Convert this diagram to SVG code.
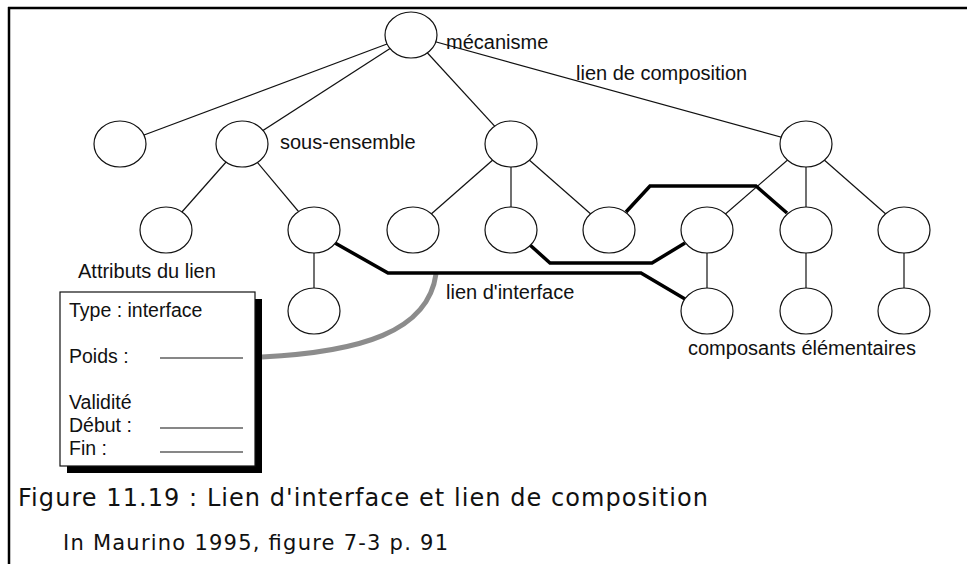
<svg xmlns="http://www.w3.org/2000/svg" width="967" height="564" viewBox="0 0 967 564">
<style>
.n{fill:#fff;stroke:#111;stroke-width:1.2}
.e{stroke:#111;stroke-width:1.2;fill:none}
.t{stroke:#000;stroke-width:3.5;fill:none;stroke-linejoin:miter}
.g{stroke:#8c8c8c;stroke-width:5;fill:none}
.lbl{font-family:"Liberation Sans",Arial,sans-serif;font-size:20px;fill:#111}
.box{font-family:"Liberation Sans",Arial,sans-serif;font-size:19.5px;fill:#111}
.cap{font-family:"DejaVu Sans",Verdana,sans-serif;fill:#111}
.fl{stroke:#111;stroke-width:1.2}
</style>
<rect width="967" height="564" fill="#fff"/>
<g id="frame">
<line x1="8" y1="8" x2="967" y2="8" stroke="#000" stroke-width="2.5"/>
<line x1="9" y1="7" x2="9" y2="564" stroke="#000" stroke-width="2.5"/>
</g>
<g id="connectors">
<line class="e" x1="411" y1="35" x2="120" y2="144"/>
<line class="e" x1="411" y1="35" x2="242" y2="144"/>
<line class="e" x1="411" y1="35" x2="511" y2="144"/>
<line class="e" x1="411" y1="35" x2="806" y2="144"/>
<line class="e" x1="242" y1="144" x2="166" y2="230"/>
<line class="e" x1="242" y1="144" x2="314" y2="230"/>
<line class="e" x1="314" y1="230" x2="314" y2="311"/>
<line class="e" x1="511" y1="144" x2="413" y2="230"/>
<line class="e" x1="511" y1="144" x2="511" y2="230"/>
<line class="e" x1="511" y1="144" x2="609" y2="230"/>
<line class="e" x1="806" y1="144" x2="707" y2="230"/>
<line class="e" x1="806" y1="144" x2="806" y2="230"/>
<line class="e" x1="806" y1="144" x2="904" y2="230"/>
<line class="e" x1="707" y1="230" x2="707" y2="311"/>
<line class="e" x1="806" y1="230" x2="806" y2="311"/>
<line class="e" x1="904" y1="230" x2="904" y2="311"/>
<path class="g" d="M262,357 C360,352 428,332 436,274"/>
<polyline class="t" points="335,243 388,273 641,273 685,299"/>
<polyline class="t" points="530,245 550,263 652,263 685,243"/>
<polyline class="t" points="626,212 650,186 756,186 787,213"/>
</g>
<g id="n-mecanisme"><ellipse class="n" cx="411" cy="35" rx="26" ry="23"/></g>
<g id="n-a"><ellipse class="n" cx="120" cy="144" rx="26" ry="23"/></g>
<g id="n-sous-ensemble"><ellipse class="n" cx="242" cy="144" rx="26" ry="23"/></g>
<g id="n-c"><ellipse class="n" cx="511" cy="144" rx="26" ry="23"/></g>
<g id="n-d"><ellipse class="n" cx="806" cy="144" rx="26" ry="23"/></g>
<g id="n-b1"><ellipse class="n" cx="166" cy="230" rx="26" ry="23"/></g>
<g id="n-b2"><ellipse class="n" cx="314" cy="230" rx="26" ry="23"/></g>
<g id="n-c1"><ellipse class="n" cx="413" cy="230" rx="26" ry="23"/></g>
<g id="n-c2"><ellipse class="n" cx="511" cy="230" rx="26" ry="23"/></g>
<g id="n-c3"><ellipse class="n" cx="609" cy="230" rx="26" ry="23"/></g>
<g id="n-d1"><ellipse class="n" cx="707" cy="230" rx="26" ry="23"/></g>
<g id="n-d2"><ellipse class="n" cx="806" cy="230" rx="26" ry="23"/></g>
<g id="n-d3"><ellipse class="n" cx="904" cy="230" rx="26" ry="23"/></g>
<g id="n-b2a"><ellipse class="n" cx="314" cy="311" rx="26" ry="23"/></g>
<g id="n-d1a"><ellipse class="n" cx="707" cy="311" rx="26" ry="23"/></g>
<g id="n-d2a"><ellipse class="n" cx="806" cy="311" rx="26" ry="23"/></g>
<g id="n-d3a"><ellipse class="n" cx="904" cy="311" rx="26" ry="23"/></g>
<g id="labels">
<text class="lbl" x="446" y="49">mécanisme</text>
<text class="lbl" x="576" y="80">lien de composition</text>
<text class="lbl" x="280" y="149">sous-ensemble</text>
<text class="lbl" x="78" y="278">Attributs du lien</text>
<text class="lbl" x="446" y="299">lien d'interface</text>
<text class="lbl" x="688" y="355">composants élémentaires</text>
</g>
<g id="attributs">
<rect x="67" y="299" width="195" height="174" fill="#000"/>
<rect x="60" y="292" width="195" height="174" fill="#fff" stroke="#111" stroke-width="1.2"/>
<text class="box" x="69" y="317">Type : interface</text>
<text class="box" x="69" y="363">Poids :</text>
<line class="fl" x1="160" y1="358" x2="243" y2="358"/>
<text class="box" x="69" y="409">Validité</text>
<text class="box" x="69" y="432">Début :</text>
<line class="fl" x1="160" y1="428" x2="243" y2="428"/>
<text class="box" x="69" y="455">Fin :</text>
<line class="fl" x1="160" y1="452" x2="243" y2="452"/>
</g>
<g id="caption">
<text class="cap" x="18" y="506" font-size="24" textLength="690" lengthAdjust="spacing">Figure 11.19 : Lien d'interface et lien de composition</text>
<text class="cap" x="63" y="550" font-size="21" textLength="385" lengthAdjust="spacing">In Maurino 1995, figure 7-3 p. 91</text>
</g>
</svg>
